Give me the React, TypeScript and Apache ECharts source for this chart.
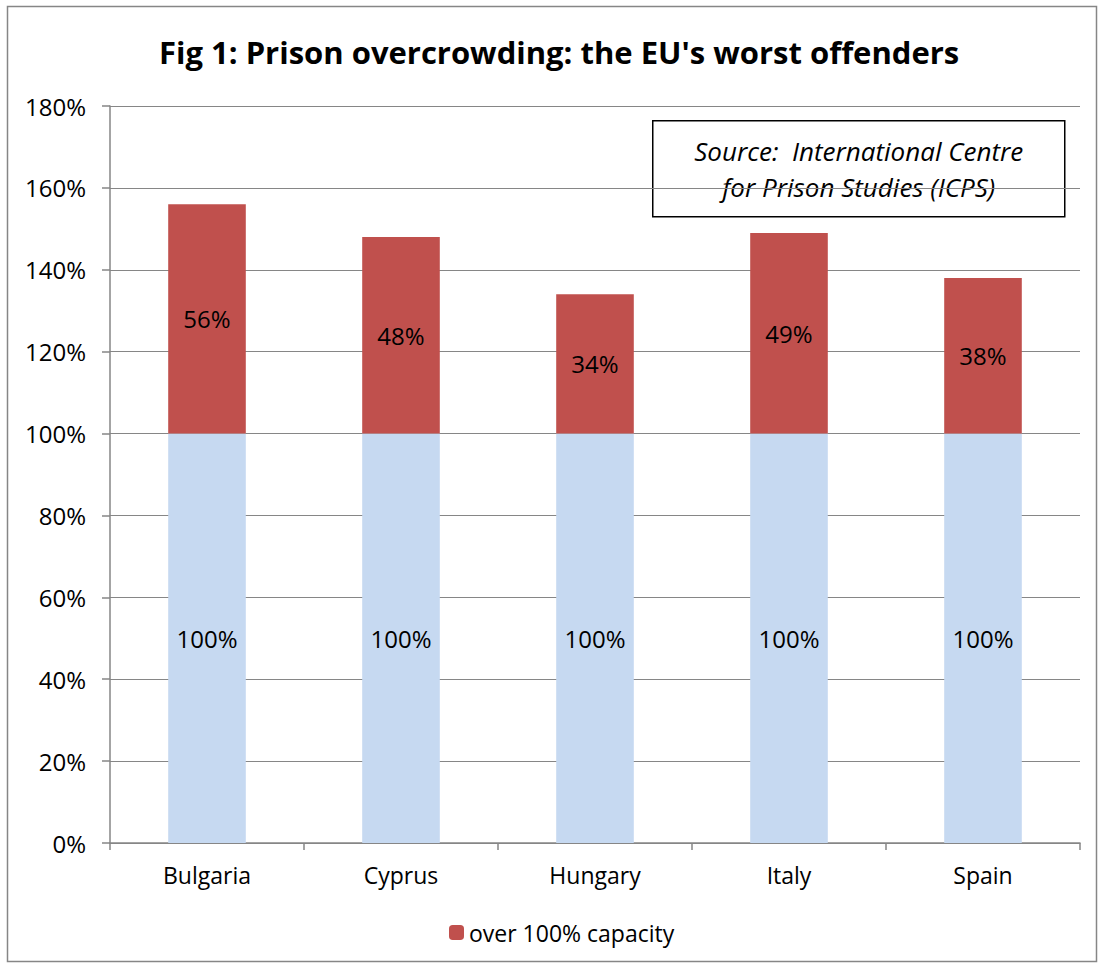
import React, { useEffect, useRef } from "react";
import * as echarts from "echarts";

const categories = ["Bulgaria", "Cyprus", "Hungary", "Italy", "Spain"];
const capacityValues = [100, 100, 100, 100, 100];
const overValues = [56, 48, 34, 49, 38];
const yTicks = { min: 0, max: 180, interval: 20 };
const titleText = "Fig 1: Prison overcrowding: the EU's worst offenders";
const sourceText = "Source:  International Centre\nfor Prison Studies (ICPS)";
const overName = "over 100% capacity";
const capacityName = "100% capacity";

const FONT = "'Open Sans', 'Noto Sans', sans-serif";

export default function App() {
  const ref = useRef<HTMLDivElement>(null);
  useEffect(() => {
    document.body.style.margin = "0";
    const chart = echarts.init(ref.current!, null, { renderer: "svg" });
    chart.setOption({
      animation: false,
      backgroundColor: "#ffffff",
      textStyle: { fontFamily: FONT },
      title: {
        text: titleText,
        left: 159,
        top: 36,
        padding: 0,
        textStyle: { fontFamily: FONT, fontSize: 31, fontWeight: "bold", color: "#000" },
      },
      grid: { left: 110, right: 24, top: 106, bottom: 126, containLabel: false },
      legend: {
        data: [overName],
        bottom: 20,
        left: 444,
        itemWidth: 15,
        itemHeight: 15,
        itemGap: 6,
        textStyle: { fontFamily: FONT, fontSize: 23, color: "#000" },
      },
      xAxis: {
        type: "category",
        data: categories,
        axisLine: { lineStyle: { color: "#868686", width: 1.5 } },
        axisTick: { show: true, length: 7, lineStyle: { color: "#868686", width: 1.5 } },
        axisLabel: { color: "#000", fontSize: 23, fontFamily: FONT, margin: 20 },
      },
      yAxis: {
        type: "value",
        min: yTicks.min,
        max: yTicks.max,
        interval: yTicks.interval,
        axisLine: { show: true, lineStyle: { color: "#868686", width: 1.5 } },
        axisTick: { show: true, length: 8, lineStyle: { color: "#868686", width: 1.5 } },
        splitLine: { lineStyle: { color: "#868686", width: 1.2 } },
        axisLabel: {
          color: "#000",
          fontSize: 24,
          fontFamily: FONT,
          margin: 24,
          formatter: (v: number) => `${v}%`,
        },
      },
      series: [
        {
          name: capacityName,
          type: "bar",
          stack: "total",
          data: capacityValues,
          barCategoryGap: "60%",
          itemStyle: { color: "#C6D9F1" },
          label: {
            show: true,
            position: "inside",
            color: "#000",
            fontSize: 24,
            fontFamily: FONT,
            formatter: (p: any) => `${p.value}%`,
          },
        },
        {
          name: overName,
          type: "bar",
          stack: "total",
          data: overValues,
          barCategoryGap: "60%",
          itemStyle: { color: "#C0504D" },
          label: {
            show: true,
            position: "inside",
            color: "#000",
            fontSize: 24,
            fontFamily: FONT,
            formatter: (p: any) => `${p.value}%`,
          },
        },
      ],
      graphic: [
        {
          type: "rect",
          shape: { x: 7.5, y: 6.5, width: 1089, height: 955 },
          style: { fill: "none", stroke: "#868686", lineWidth: 1.5 },
          silent: true,
        },
        {
          type: "group",
          left: 652,
          top: 120,
          children: [
            {
              type: "rect",
              shape: { x: 0, y: 0, width: 412, height: 96 },
              style: { fill: "#ffffff", stroke: "#000000", lineWidth: 1.5 },
            },
            {
              type: "text",
              x: 206,
              y: 48,
              style: {
                text: sourceText,
                fill: "#000",
                font: `italic 26px ${FONT}`,
                align: "center",
                verticalAlign: "middle",
                lineHeight: 36,
              },
            },
          ],
        },
      ],
    });
    return () => chart.dispose();
  }, []);
  return <div ref={ref} style={{ width: 1104, height: 969 }} />;
}
